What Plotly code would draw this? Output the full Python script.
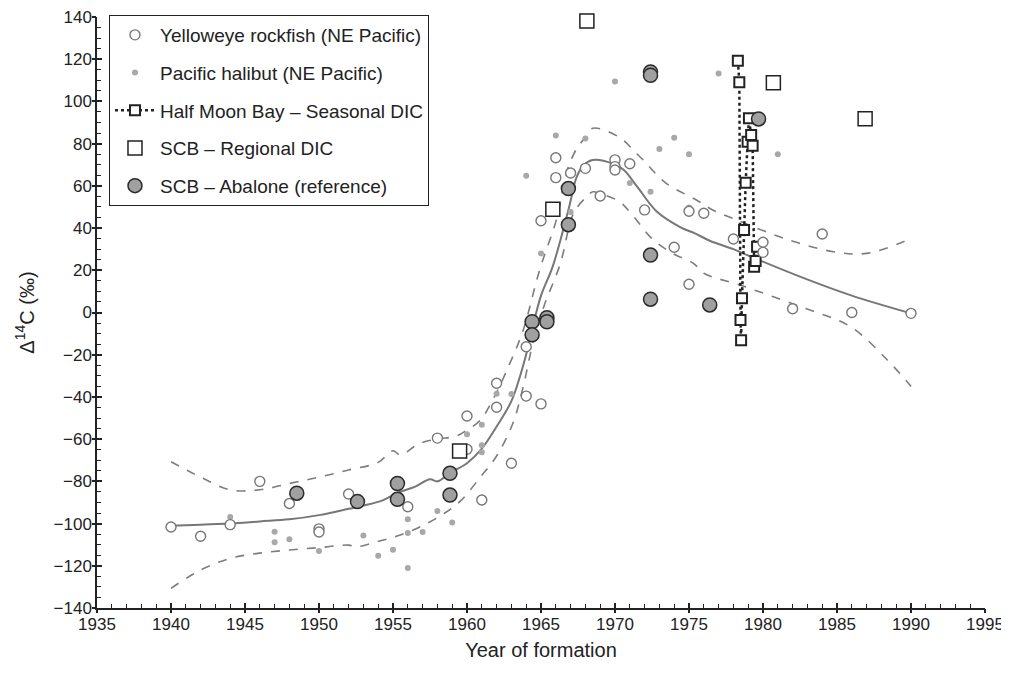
import plotly.graph_objects as go

# ---------------- data ----------------
ye_x = [1940, 1942, 1944, 1946, 1948, 1950, 1950, 1952, 1956, 1958, 1960, 1960, 1961,
        1962, 1962, 1963, 1964, 1964, 1965, 1965, 1966, 1966, 1967, 1968, 1969, 1970,
        1970, 1970, 1971, 1972, 1974, 1975, 1975, 1976, 1978, 1980, 1980, 1982, 1984,
        1986, 1990]
ye_y = [-101.6, -106, -100.5, -80, -90.5, -102.5, -104, -86, -92, -59.5, -49, -64.8, -88.8,
        -33.5, -44.9, -71.4, -16.2, -39.6, -43.3, 43.5, 73.3, 63.9, 66.1, 68.3, 55.2, 72.3,
        69.1, 67.5, 70.5, 48.6, 30.9, 48, 13.4, 47, 34.8, 33.3, 28.5, 1.8, 37.2,
        0, -0.4]

hal_x = [1944, 1947, 1947, 1948, 1950, 1953, 1954, 1955, 1956, 1956, 1956, 1957, 1958,
         1959, 1960, 1961, 1961, 1961, 1962, 1963, 1964, 1965, 1966, 1967, 1968, 1970,
         1971, 1972.4, 1973, 1974, 1975, 1975, 1977, 1981]
hal_y = [-96.9, -103.9, -108.9, -107.4, -113, -105.7, -115.2, -112.4, -98, -104.5, -121, -104, -94,
         -99.5, -57.7, -53.2, -62.9, -66.2, -38.5, -38.6, 64.8, 28, 83.8, 47.6, 82.4, 109.5,
         61.4, 57.2, 77.5, 82.8, 75, 49.8, 113.2, 75]

hmb_x = [1978.3, 1978.4, 1978.48, 1978.52, 1978.58, 1978.72, 1978.83, 1978.96, 1979.05,
         1979.2, 1979.3, 1979.4, 1979.5, 1979.6]
hmb_y = [119.3, 109.1, -3.6, -13.2, 6.7, 39.1, 61.5, 80.9, 92, 84.1, 79, 21.7, 24.4, 31.2]

scb_x = [1959.5, 1965.8, 1968.1, 1980.7, 1986.9]
scb_y = [-65.6, 48.9, 138.1, 108.9, 91.8]

ab_x = [1948.5, 1952.6, 1955.3, 1955.3, 1958.85, 1958.85, 1964.4, 1964.4, 1965.4, 1965.4,
        1966.85, 1966.85, 1972.4, 1972.4, 1972.4, 1972.4, 1976.4, 1979.7]
ab_y = [-85.6, -89.6, -81, -88.5, -76.2, -86.5, -4.4, -10.6, -2.5, -4.4,
        58.7, 41.6, 114, 112.4, 27.2, 6.3, 3.6, 91.7]

fit_x = [1940, 1942, 1944, 1946, 1948, 1950, 1952, 1953, 1954.3, 1955.3, 1956.5, 1957.5,
         1958, 1958.85, 1960, 1961, 1962, 1963, 1963.9, 1964.4, 1965, 1965.8, 1966.9,
         1967.4, 1967.9, 1968.5, 1969.9, 1970.6, 1971.5, 1972.8, 1974.4, 1975.4, 1976.4,
         1978, 1979, 1982.5, 1986, 1990]
fit_y = [-101, -100.5, -100, -99, -98, -96, -93, -91.5, -89, -85.5, -82.5, -79,
         -80, -76, -71.4, -64.5, -54, -42, -22.5, -8, 8, 22, 50,
         64, 70, 72.3, 70.4, 67.5, 59.6, 48, 40.5, 37.5, 34,
         30, 27, 17, 8, -0.4]

up_x = [1940, 1942, 1944, 1946, 1948, 1950, 1952, 1954, 1955, 1955.5, 1956.8, 1958,
        1959.3, 1960, 1960.9, 1961.8, 1962.9, 1963.8, 1964.9, 1966.1, 1966.7, 1967.4,
        1968, 1968.5, 1970.3, 1971.5, 1971.9, 1973.4, 1975.5, 1976.6, 1978, 1981.4,
        1984.75, 1987, 1990]
up_y = [-70.7, -78, -84, -84, -81, -78, -74.6, -71, -65.5, -67.5, -62, -60,
        -58.5, -55.7, -51, -40.6, -24, -8.3, 20, 45.4, 66, 77.5,
        83, 87.3, 83, 75, 72.3, 61.5, 53.3, 48.6, 44.5, 35.2,
        28.8, 28, 35]

lo_x = [1940, 1942, 1944, 1946, 1948, 1950, 1952, 1952.5, 1953.9, 1955.5, 1957, 1958.5,
        1959.6, 1960.9, 1962, 1963.1, 1963.8, 1964.5, 1965.2, 1966.3, 1967.2, 1968.1,
        1968.5, 1969, 1970.3, 1971.2, 1972.5, 1973.9, 1975.3, 1976, 1978.45, 1982.5,
        1985.9, 1988.4, 1990]
lo_y = [-130.7, -122, -116.5, -114, -112.5, -111.4, -110.2, -111, -108.6, -105.4, -101, -95,
        -89, -78, -68, -52.5, -35, -13, 3, 23, 47, 55,
        57.2, 56.4, 52.5, 46, 35, 28, 23.3, 18.6, 13, 2.8,
        -6.7, -22.5, -35]

names = ["Yelloweye rockfish (NE Pacific)", "Pacific halibut (NE Pacific)",
         "Half Moon Bay – Seasonal DIC", "SCB – Regional DIC", "SCB – Abalone (reference)"]

# ---------------- figure ----------------
fig = go.Figure()

fig.add_trace(go.Scatter(x=up_x, y=up_y, mode="lines", showlegend=False, hoverinfo="skip",
                         line=dict(color="#7d7d7d", width=1.6, dash="dash", shape="spline")))
fig.add_trace(go.Scatter(x=lo_x, y=lo_y, mode="lines", showlegend=False, hoverinfo="skip",
                         line=dict(color="#7d7d7d", width=1.6, dash="dash", shape="spline")))
fig.add_trace(go.Scatter(x=fit_x, y=fit_y, mode="lines", showlegend=False, hoverinfo="skip",
                         line=dict(color="#777777", width=2, shape="spline")))

fig.add_trace(go.Scatter(x=hmb_x, y=hmb_y, mode="lines+markers", name=names[2],
                         legendrank=3, legendgroup="c", cliponaxis=False,
                         line=dict(color="#222222", width=2.5, dash="dot"),
                         marker=dict(symbol="square", size=10, color="white",
                                     line=dict(color="#222222", width=2))))
fig.add_trace(go.Scatter(x=hal_x, y=hal_y, mode="markers", name=names[1],
                         legendrank=2, legendgroup="b",
                         marker=dict(symbol="circle", size=6, color="#a8a8a8",
                                     line=dict(width=0))))
fig.add_trace(go.Scatter(x=ye_x, y=ye_y, mode="markers", name=names[0],
                         legendrank=1, legendgroup="a",
                         marker=dict(symbol="circle", size=10, color="white",
                                     line=dict(color="#777777", width=1.4))))
fig.add_trace(go.Scatter(x=scb_x, y=scb_y, mode="markers", name=names[3],
                         legendrank=4, legendgroup="d", cliponaxis=False,
                         marker=dict(symbol="square", size=14, color="white",
                                     line=dict(color="#222222", width=1.5))))
fig.add_trace(go.Scatter(x=ab_x, y=ab_y, mode="markers", name=names[4],
                         legendrank=5, legendgroup="e",
                         marker=dict(symbol="circle", size=14, color="#a0a0a0",
                                     line=dict(color="#2a2a2a", width=1.5))))

# invisible trace anchoring the overlay axes (for crossing tick marks)
fig.add_trace(go.Scatter(x=[1935], y=[-140], xaxis="x2", yaxis="y2", mode="markers",
                         marker=dict(opacity=0), showlegend=False, hoverinfo="skip"))

font_family = "Liberation Sans, Arial, sans-serif"

# the page body adds an 8px offset, so the figure is 8px smaller each way
fig.update_layout(
    width=1001, height=669,
    margin=dict(l=89, r=24, t=9, b=69, autoexpand=False),
    paper_bgcolor="white", plot_bgcolor="white",
    font=dict(family=font_family, size=17, color="#222222"),
    showlegend=True,
    legend=dict(x=0.0135, y=1.0034, xanchor="left", yanchor="top",
                bgcolor="white", bordercolor="#222222", borderwidth=1,
                font=dict(size=19, color="#222222"), traceorder="grouped",
                tracegroupgap=10, itemwidth=40),
    xaxis=dict(range=[1935, 1995], tickmode="linear", tick0=1935, dtick=5,
               automargin=False, ticklabeloverflow="allow",
               showgrid=False, zeroline=False, showline=True, linecolor="#222222",
               linewidth=1.5, ticks="inside", ticklen=5, tickwidth=1.5, tickcolor="#222222",
               tickfont=dict(size=17, color="#222222"),
               minor=dict(dtick=1, tick0=1935, ticks="inside", ticklen=4, tickwidth=1,
                          tickcolor="#222222", showgrid=False),
               title=dict(text="Year of formation", font=dict(size=20), standoff=10)),
    yaxis=dict(range=[-140, 140], tickmode="linear", tick0=-140, dtick=20,
               automargin=False, ticklabeloverflow="allow",
               showgrid=False, zeroline=False, showline=True, linecolor="#222222",
               linewidth=1.5, ticks="inside", ticklen=5, tickwidth=1.5, tickcolor="#222222",
               tickfont=dict(size=17, color="#222222"),
               minor=dict(dtick=5, tick0=-140, ticks="inside", ticklen=4, tickwidth=1,
                          tickcolor="#222222", showgrid=False),
               title=dict(text="Δ<sup>14</sup>C (‰)", font=dict(size=20), standoff=14)),
    xaxis2=dict(range=[1935, 1995], overlaying="x", anchor="y2", side="bottom",
                automargin=False,
                tickmode="linear", tick0=1935, dtick=5, showgrid=False, zeroline=False,
                showline=False, ticks="outside", ticklen=4, tickwidth=1.5,
                tickcolor="#222222", showticklabels=False),
    yaxis2=dict(range=[-140, 140], overlaying="y", anchor="x2", side="left",
                automargin=False,
                tickmode="linear", tick0=-140, dtick=20, showgrid=False, zeroline=False,
                showline=False, ticks="outside", ticklen=4, tickwidth=1.5,
                tickcolor="#222222", showticklabels=False),
)

fig.write_html("out.html")
